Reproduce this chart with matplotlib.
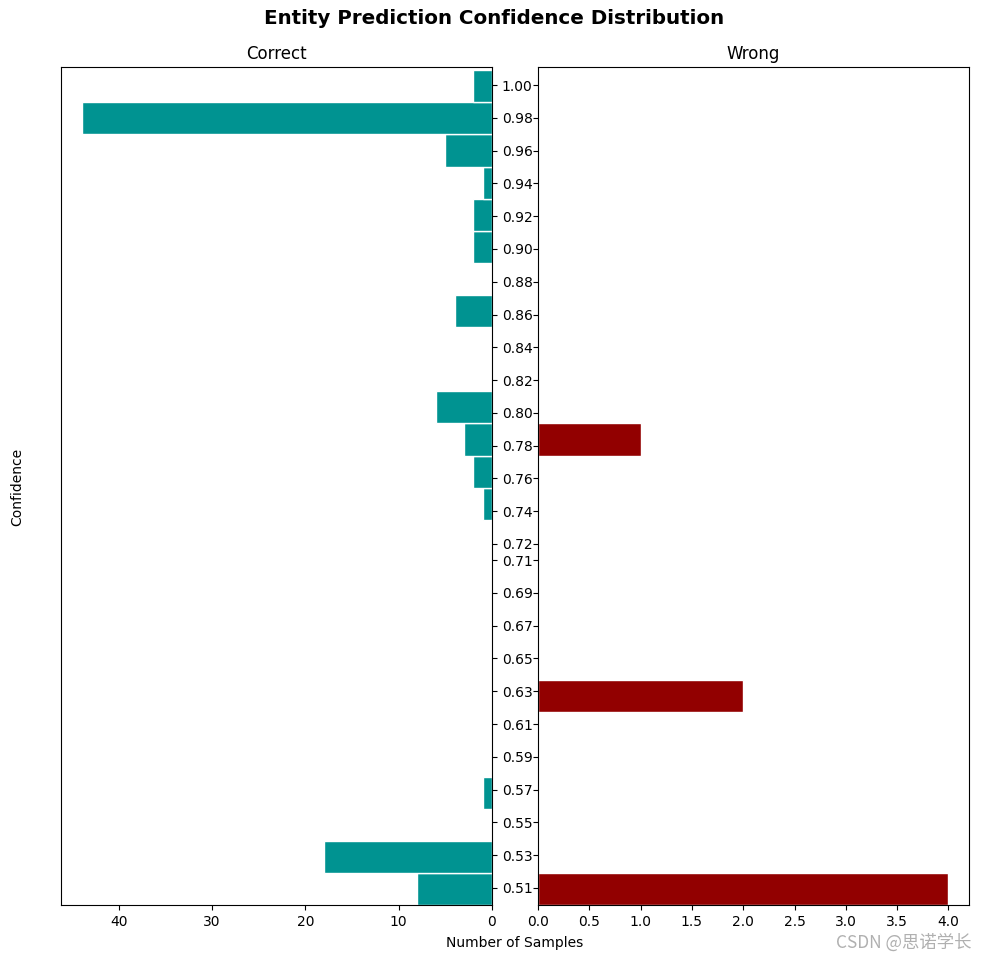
import numpy as np
import matplotlib
matplotlib.use("Agg")
import matplotlib.pyplot as plt

# bin centres (confidence), lowest first
centers = [0.5093, 0.5289, 0.5485, 0.5681, 0.5877, 0.6073, 0.6269, 0.6465, 0.6661,
           0.6857, 0.7053, 0.7249, 0.7445, 0.7641, 0.7837, 0.8033, 0.8229, 0.8425,
           0.8621, 0.8817, 0.9013, 0.9209, 0.9405, 0.9601, 0.9797, 0.9993]
bin_w = 0.0196
correct = [8, 18, 0, 1, 0, 0, 0, 0, 0, 0, 0, 0, 1, 2, 3, 6, 0, 0, 4, 0, 2, 2, 1, 5, 44, 2]
wrong = [4, 0, 0, 0, 0, 0, 2, 0, 0, 0, 0, 0, 0, 0, 1, 0, 0, 0, 0, 0, 0, 0, 0, 0, 0, 0]
ytick_vals = [0.51, 0.53, 0.55, 0.57, 0.59, 0.61, 0.63, 0.65, 0.67, 0.69, 0.71,
              0.72, 0.74, 0.76, 0.78, 0.80, 0.82, 0.84, 0.86, 0.88, 0.90, 0.92,
              0.94, 0.96, 0.98, 1.00]

W, H = 989, 961
fig = plt.figure(figsize=(W / 100, H / 100), dpi=100)
bottom = (H - 905) / H
height = (905 - 67) / H
ax1 = fig.add_axes([61 / W, bottom, (492 - 61) / W, height])
ax2 = fig.add_axes([538 / W, bottom, (969 - 538) / W, height], sharey=ax1)

ax1.barh(centers, correct, height=bin_w, color="#009391", edgecolor="white",
         linewidth=1)
ax2.barh(centers, wrong, height=bin_w, color="#920000", edgecolor="white",
         linewidth=1)

ax1.invert_xaxis()
ax1.set_ylim(centers[0] - bin_w / 2, centers[-1] + bin_w / 2 + 0.002)
ax1.set_yticks(ytick_vals)
ax1.set_yticklabels([f"{v:.2f}" for v in ytick_vals])
ax1.yaxis.tick_right()
ax2.tick_params(axis="y", left=True, labelleft=False, right=False, labelright=False)

ax1.set_title("Correct", fontsize=12)
ax2.set_title("Wrong", fontsize=12)

fig.suptitle("Entity Prediction Confidence Distribution", fontsize=14.3,
             fontweight="bold", y=1 - 18 / H, va="center")
fig.text(17 / W, 1 - 487 / H, "Confidence", rotation=90, ha="center", va="center",
         fontsize=10)
fig.text(515 / W, 1 - 943 / H, "Number of Samples", ha="center", va="center",
         fontsize=10)
fig.text(972 / W, 1 - 943 / H, "CSDN @思诺学长", ha="right", va="center",
         fontsize=12.5, color="#b0b0b0", family=["Noto Sans CJK SC", "DejaVu Sans"])

fig.savefig("out.png", dpi=100)
